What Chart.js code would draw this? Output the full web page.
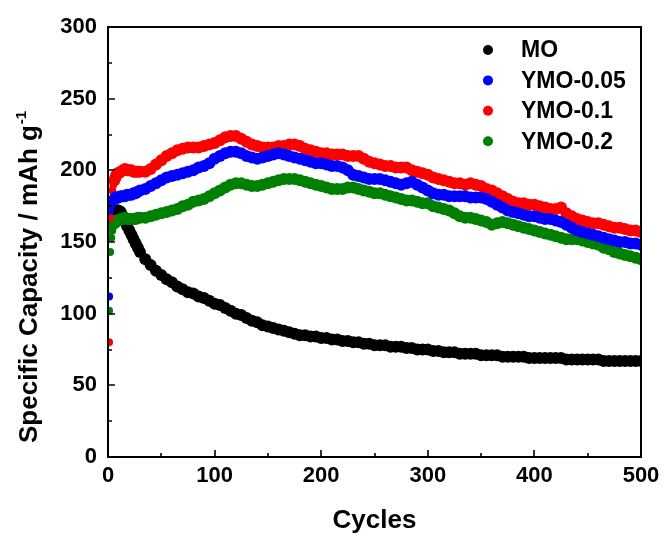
<!DOCTYPE html>
<html>
<head>
<meta charset="utf-8">
<title>Cycling performance</title>
<script src="https://cdn.jsdelivr.net/npm/chart.js@4.4.1/dist/chart.umd.min.js"></script>
<style>
    html, body { margin: 0; padding: 0; background: #fff; }
    #wrap { width: 666px; height: 538px; }
</style>
</head>
<body>
<div id="wrap"><canvas id="capacityChart" width="666" height="538"></canvas></div>
<script>
// Cycle numbers (dense at the start, then every 5th)
const cycles = [1, 2, 3, 4, 5, 6, 7, 8, 9, 10,
    12, 14, 16, 18, 20, 22, 24, 26, 28, 30,
    35, 40, 45, 50, 55, 60, 65, 70, 75, 80,
    85, 90, 95, 100, 105, 110, 115, 120, 125, 130,
    135, 140, 145, 150, 155, 160, 165, 170, 175, 180,
    185, 190, 195, 200, 205, 210, 215, 220, 225, 230,
    235, 240, 245, 250, 255, 260, 265, 270, 275, 280,
    285, 290, 295, 300, 305, 310, 315, 320, 325, 330,
    335, 340, 345, 350, 355, 360, 365, 370, 375, 380,
    385, 390, 395, 400, 405, 410, 415, 420, 425, 430,
    435, 440, 445, 450, 455, 460, 465, 470, 475, 480,
    485, 490, 495, 500];

// Specific capacity (mAh g-1)
const capMO = [165, 166, 167, 168, 169, 170, 171, 172, 172, 172,
    171, 168, 164, 161, 158, 155, 152, 149, 146, 143,
    138, 134, 130, 127, 124, 122, 119, 117, 115, 114,
    112, 111, 109, 107, 106, 104, 102, 100, 99, 97,
    95, 94, 92, 91, 90, 89, 88, 87, 86, 85,
    85, 84, 84, 83, 83, 82, 82, 81, 81, 80,
    80, 79, 79, 78, 78, 78, 77, 77, 77, 76,
    76, 75, 75, 75, 74, 74, 73, 73, 73, 72,
    72, 72, 72, 71, 71, 71, 71, 70, 70, 70,
    70, 70, 69, 69, 69, 69, 69, 69, 69, 68,
    68, 68, 68, 68, 68, 68, 67, 67, 67, 67,
    67, 67, 67, 67];

const capY005 = [112, 172, 176, 178, 180, 180, 181, 181, 181, 181,
    182, 182, 182, 183, 183, 183, 184, 184, 185, 186,
    187, 189, 191, 193, 195, 196, 197, 198, 199, 200,
    202, 203, 205, 208, 210, 212, 213, 213, 212, 210,
    209, 208, 209, 210, 211, 212, 211, 210, 209, 208,
    207, 206, 205, 205, 204, 203, 203, 202, 200, 197,
    196, 195, 194, 194, 194, 193, 192, 191, 190, 191,
    192, 190, 188, 186, 184, 183, 183, 182, 182, 182,
    182, 181, 181, 181, 180, 178, 176, 174, 172, 171,
    170, 169, 168, 168, 167, 166, 166, 165, 164, 162,
    160, 158, 157, 156, 155, 154, 153, 152, 151, 150,
    150, 149, 149, 148];

const capY01 = [80, 167, 179, 186, 190, 193, 195, 197, 198, 198,
    199, 200, 201, 200, 200, 200, 199, 199, 199, 199,
    199, 201, 204, 207, 210, 212, 214, 215, 216, 216,
    216, 217, 218, 219, 221, 223, 224, 224, 222, 220,
    218, 217, 216, 216, 216, 217, 217, 218, 218, 217,
    215, 214, 213, 212, 212, 211, 211, 211, 210, 210,
    210, 208, 206, 205, 204, 203, 203, 202, 202, 202,
    200, 199, 198, 197, 195, 194, 193, 192, 191, 191,
    190, 191, 190, 189, 187, 186, 184, 182, 180, 178,
    177, 177, 176, 176, 175, 174, 173, 173, 174, 170,
    168, 166, 165, 164, 163, 163, 162, 161, 160, 160,
    159, 158, 158, 157];

const capY02 = [102, 143, 153, 158, 161, 163, 164, 165, 165, 165,
    166, 166, 167, 166, 166, 166, 166, 166, 167, 167,
    167, 168, 169, 170, 171, 172, 173, 175, 176, 178,
    179, 180, 182, 184, 186, 188, 190, 191, 191, 190,
    189, 189, 190, 191, 192, 193, 194, 194, 194, 193,
    192, 191, 190, 189, 188, 187, 187, 187, 188, 188,
    187, 186, 185, 184, 184, 183, 182, 181, 180, 179,
    179, 178, 177, 177, 175, 174, 173, 172, 170, 168,
    167, 167, 166, 165, 164, 162, 163, 164, 163, 162,
    161, 160, 159, 158, 157, 156, 155, 154, 153, 152,
    152, 152, 151, 150, 149, 148, 146, 145, 143, 142,
    141, 140, 139, 138];

const seriesNames = ['MO', 'YMO-0.05', 'YMO-0.1', 'YMO-0.2'];
const seriesColors = ['#000000', '#0000FF', '#FF0000', '#008000'];
const seriesValues = [capMO, capY005, capY01, capY02];
// higher order is drawn first (underneath)
const seriesOrder = [3, 0, 1, 2];

const xTicks = [0, 100, 200, 300, 400, 500];
const yTicks = [0, 50, 100, 150, 200, 250, 300];

const fontFamily = '"Liberation Sans", Arial, Helvetica, sans-serif';

function toPoints(values) {
    return cycles.map((c, i) => ({ x: c, y: values[i] }));
}

// Frame, inward ticks, legend and y title drawn on top of the plot
const framePlugin = {
    id: 'frame',
    afterDraw(chart) {
        const ctx = chart.ctx;
        const a = chart.chartArea;
        const xs = chart.scales.x;
        const ys = chart.scales.y;
        ctx.save();

        ctx.strokeStyle = '#000';
        ctx.lineWidth = 2;
        ctx.strokeRect(a.left, a.top, a.right - a.left, a.bottom - a.top);

        ctx.lineWidth = 1.6;
        ctx.beginPath();
        for (let v = 0; v <= 300; v += 25) {
            const py = Math.round(ys.getPixelForValue(v));
            const len = v % 50 === 0 ? 7 : 4;
            ctx.moveTo(a.left, py);
            ctx.lineTo(a.left + len, py);
        }
        for (let v = 0; v <= 500; v += 50) {
            const px = Math.round(xs.getPixelForValue(v));
            const len = v % 100 === 0 ? 7 : 4;
            ctx.moveTo(px, a.bottom);
            ctx.lineTo(px, a.bottom - len);
        }
        ctx.stroke();

        // legend
        ctx.font = 'bold 23px ' + fontFamily;
        ctx.textAlign = 'left';
        ctx.textBaseline = 'middle';
        seriesNames.forEach((name, i) => {
            const cy = 50 + i * 30.4;
            ctx.fillStyle = seriesColors[i];
            ctx.beginPath();
            ctx.arc(488, cy, 5, 0, Math.PI * 2);
            ctx.fill();
            ctx.fillStyle = '#000';
            ctx.fillText(name, 521, cy + 1);
        });

        // y axis title with superscript
        ctx.translate(37, 443);
        ctx.rotate(-Math.PI / 2);
        ctx.textBaseline = 'alphabetic';
        ctx.font = 'bold 26px ' + fontFamily;
        const main = 'Specific Capacity / mAh g';
        ctx.fillText(main, 0, 0);
        const w = ctx.measureText(main).width;
        ctx.font = 'bold 15px ' + fontFamily;
        ctx.fillText('-1', w + 1, -11);

        ctx.restore();
    }
};

document.addEventListener('DOMContentLoaded', function() {
    const ctx = document.getElementById('capacityChart');

    new Chart(ctx, {
        type: 'scatter',
        data: {
            datasets: seriesNames.map((name, i) => ({
                label: name,
                data: toPoints(seriesValues[i]),
                order: seriesOrder[i],
                backgroundColor: seriesColors[i],
                borderColor: seriesColors[i],
                pointBorderWidth: 0,
                pointRadius: c => c.dataIndex < 5 ? 4 : 6,
                showLine: false
            }))
        },
        options: {
            responsive: false,
            animation: false,
            devicePixelRatio: 1,
            layout: {
                padding: { top: 27, right: 25, left: 0, bottom: 2 }
            },
            plugins: {
                legend: { display: false },
                tooltip: { enabled: false }
            },
            scales: {
                x: {
                    type: 'linear',
                    min: 0,
                    max: 500,
                    afterFit: s => { s.height = 79; },
                    afterBuildTicks: s => { s.ticks = xTicks.map(v => ({ value: v })); },
                    grid: { display: false, drawTicks: false },
                    border: { display: false },
                    ticks: {
                        padding: 6,
                        color: '#000',
                        maxRotation: 0,
                        font: { family: fontFamily, size: 22, weight: 'bold' }
                    },
                    title: {
                        display: true,
                        text: 'Cycles',
                        color: '#000',
                        padding: 0,
                        font: { family: fontFamily, size: 26, weight: 'bold' }
                    }
                },
                y: {
                    min: 0,
                    max: 300,
                    afterFit: s => { s.width = 108; },
                    afterBuildTicks: s => { s.ticks = yTicks.map(v => ({ value: v })); },
                    grid: { display: false, drawTicks: false },
                    border: { display: false },
                    ticks: {
                        padding: 11,
                        color: '#000',
                        font: { family: fontFamily, size: 22, weight: 'bold' }
                    }
                }
            }
        },
        plugins: [framePlugin]
    });
});
</script>
</body>
</html>
